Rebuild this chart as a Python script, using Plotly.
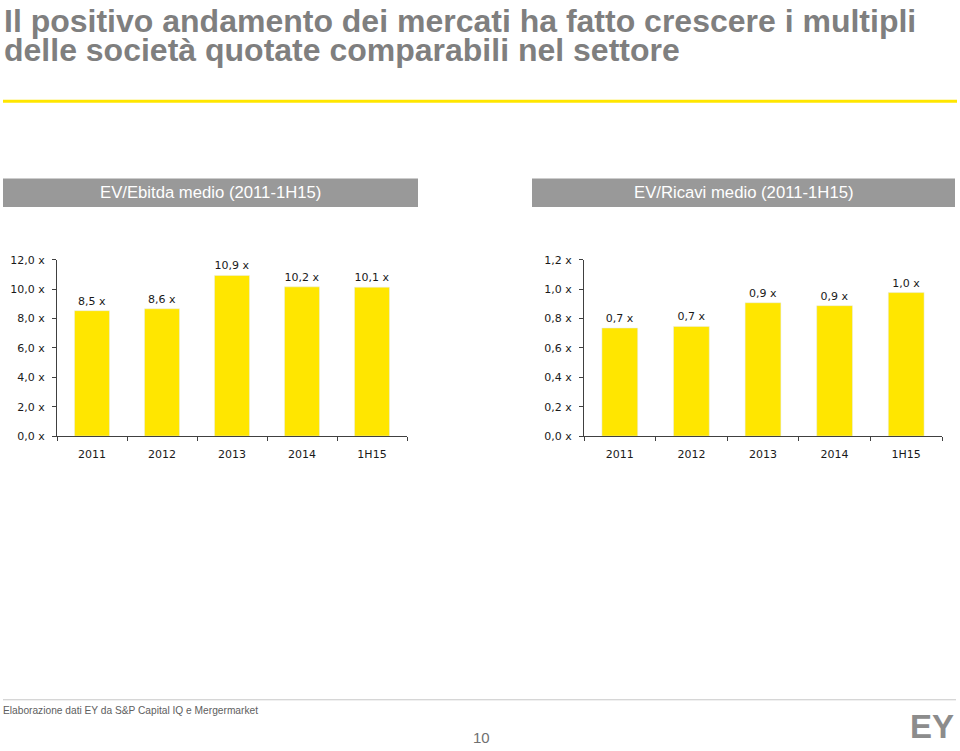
import plotly.graph_objects as go

W, H = 960, 751

categories = ["2011", "2012", "2013", "2014", "1H15"]
ebitda_values = [8.54, 8.67, 10.94, 10.16, 10.14]
ebitda_labels = ["8,5 x", "8,6 x", "10,9 x", "10,2 x", "10,1 x"]
ricavi_values = [0.736, 0.747, 0.908, 0.888, 0.977]
ricavi_labels = ["0,7 x", "0,7 x", "0,9 x", "0,9 x", "1,0 x"]

title_line1 = "Il positivo andamento dei mercati ha fatto crescere i multipli"
title_line2 = "delle società quotate comparabili nel settore"
header_left = "EV/Ebitda medio (2011-1H15)"
header_right = "EV/Ricavi medio (2011-1H15)"
footer_note = "Elaborazione dati EY da S&P Capital IQ e Mergermarket"
page_number = "10"

YELLOW = "#ffe600"
GREY_HDR = "#999999"
TITLE_GREY = "#7f7f7f"


def fx(x):
    return x / W


def fy(y):
    return 1 - y / H


fig = go.Figure()

labfont = dict(family="DejaVu Sans", size=11, color="#1a1a1a")

fig.add_trace(go.Bar(
    x=categories, y=ebitda_values, text=ebitda_labels, textposition="outside",
    texttemplate="%{text}", marker_color=YELLOW, width=0.5, cliponaxis=False,
    textfont=labfont, xaxis="x", yaxis="y", showlegend=False, hoverinfo="skip"))

fig.add_trace(go.Bar(
    x=categories, y=ricavi_values, text=ricavi_labels, textposition="outside",
    texttemplate="%{text}", marker_color=YELLOW, width=0.5, cliponaxis=False,
    textfont=labfont, xaxis="x2", yaxis="y2", showlegend=False, hoverinfo="skip"))

tickfont = dict(family="DejaVu Sans", size=11, color="#1a1a1a")
xcommon = dict(type="category", showline=True, linecolor="#404040", linewidth=1,
               ticks="outside", ticklen=4, tickcolor="#404040", tickson="boundaries",
               tickfont=tickfont, showgrid=False, zeroline=False, fixedrange=True,
               ticklabelstandoff=8)
ycommon = dict(showline=True, linecolor="#404040", linewidth=1, ticks="outside",
               ticklen=4, tickcolor="#404040", tickfont=tickfont, showgrid=False,
               zeroline=False, tickformat=".1f", ticksuffix=" x", fixedrange=True,
               ticklabelstandoff=5)

ydom = [fy(437.7), fy(258.3)]

fig.update_layout(
    width=W, height=H, margin=dict(l=0, r=0, t=0, b=0),
    paper_bgcolor="white", plot_bgcolor="white", separators=",.",
    bargap=0.5,
    xaxis=dict(domain=[fx(57), fx(407)], anchor="y", **xcommon),
    yaxis=dict(domain=ydom, anchor="x", range=[0, 12], dtick=2, **ycommon),
    xaxis2=dict(domain=[fx(584), fx(942)], anchor="y2", **xcommon),
    yaxis2=dict(domain=ydom, anchor="x2", range=[0, 1.2], dtick=0.2, **ycommon),
)

shapes = [
    dict(type="line", xref="paper", yref="paper", x0=fx(3), x1=fx(957), y0=fy(97), y1=fy(97),
         line=dict(color=YELLOW, width=3)),
    dict(type="rect", xref="paper", yref="paper", x0=fx(3), x1=fx(418), y0=fy(204.5), y1=fy(175.5),
         fillcolor=GREY_HDR, line=dict(width=0)),
    dict(type="rect", xref="paper", yref="paper", x0=fx(532), x1=fx(955), y0=fy(204.5), y1=fy(175.5),
         fillcolor=GREY_HDR, line=dict(width=0)),
    dict(type="line", xref="paper", yref="paper", x0=fx(3), x1=fx(956), y0=fy(706), y1=fy(706),
         line=dict(color="#c8c8c8", width=1)),
]
fig.update_layout(shapes=shapes)

ann = []
tfont = dict(family="Liberation Sans, Arial", size=32, color=TITLE_GREY)
ann.append(dict(text="<b>" + title_line1 + "</b>", x=fx(2), y=fy(15), xref="paper", yref="paper",
                xanchor="left", yanchor="middle", showarrow=False, font=tfont))
ann.append(dict(text="<b>" + title_line2 + "</b>", x=fx(2), y=fy(45), xref="paper", yref="paper",
                xanchor="left", yanchor="middle", showarrow=False, font=tfont))
hfont = dict(family="Liberation Sans, Arial", size=16.7, color="white")
ann.append(dict(text=header_left, x=fx(210.5), y=fy(190), xref="paper", yref="paper",
                xanchor="center", yanchor="middle", showarrow=False, font=hfont))
ann.append(dict(text=header_right, x=fx(743.5), y=fy(190), xref="paper", yref="paper",
                xanchor="center", yanchor="middle", showarrow=False, font=hfont))
ann.append(dict(text=footer_note, x=fx(1), y=fy(717), xref="paper", yref="paper",
                xanchor="left", yanchor="middle", showarrow=False,
                font=dict(family="Liberation Sans, Arial", size=10.2, color="#606060")))
ann.append(dict(text=page_number, x=fx(481), y=fy(744), xref="paper", yref="paper",
                xanchor="center", yanchor="middle", showarrow=False,
                font=dict(family="Liberation Sans, Arial", size=15, color="#707070")))
ann.append(dict(text="<b>EY</b>", x=fx(956), y=fy(733), xref="paper", yref="paper",
                xanchor="right", yanchor="middle", showarrow=False,
                font=dict(family="Liberation Sans, Arial", size=33, color="#8c8c8c")))
fig.update_layout(annotations=ann)

fig.write_html("out.html", config={"displayModeBar": False},
               post_script="document.body.style.margin='0';document.body.style.overflow='hidden';")
